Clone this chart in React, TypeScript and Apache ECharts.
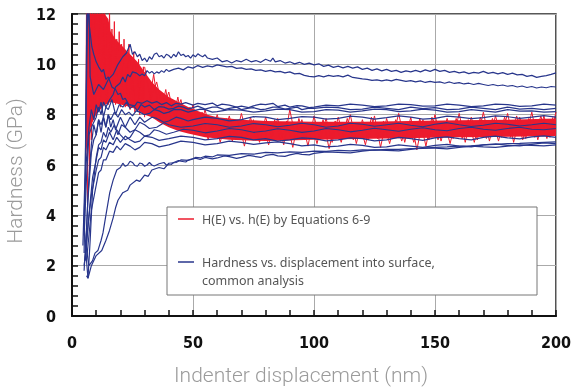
import React, { useEffect, useRef } from 'react';
import * as echarts from 'echarts';

type Pt = [number, number];

const xTicks = [0, 50, 100, 150, 200];
const yTicks = [0, 2, 4, 6, 8, 10, 12];

const redName = 'H(E) vs. h(E) by Equations 6-9';
const blueName1 = 'Hardness vs. displacement into surface,';
const blueName2 = 'common analysis';

const redBandUpper: Pt[] = [[5.8,12],[13.5,12],[15,11.8],[16,11.3],[18,11.0],[20,10.8],[22,10.6],[24,10.4],[27,10.1],[30,9.7],[33,9.3],[36,9.0],[40,8.7],[44,8.5],[48,8.3],[52,8.15],[56,8.0],[60,7.9],[70,7.8],[80,7.75],[100,7.72],[120,7.72],[140,7.75],[160,7.78],[180,7.8],[200,7.85]];
const redBandLower: Pt[] = [[5.8,6.5],[7,7.2],[8,7.6],[10,8.0],[13,8.35],[16,8.5],[20,8.4],[24,8.3],[27,8.2],[30,8.0],[33,7.9],[36,7.7],[40,7.5],[44,7.35],[48,7.25],[55,7.1],[65,7.0],[80,6.95],[100,7.0],[130,7.05],[160,7.1],[200,7.15]];

const redEarly: Pt[] = [[5.6,6.0],[6.0,12.5],[6.4,4.4],[6.8,12.5],[7.2,5.6],[7.6,12.5],[8.0,7.0],[8.5,12.5],[9,7.8],[9.5,12.5],[10,8.1],[10.5,12.5],[11,8.3],[11.5,12.5],[12,8.5],[12.5,12.5],[13,8.4],[13.5,12.3],[14,8.6],[14.5,11.8],[15,8.4],[15.5,12.2],[16,8.6],[16.5,11.4],[17,8.5],[17.5,11.7],[18,8.4],[18.5,11.0],[19,8.6],[19.5,11.3],[20,8.3],[20.5,10.8],[21,8.5],[21.5,11.0],[22,8.3],[22.5,10.5],[23,8.4],[23.5,10.8],[24,8.2],[24.5,10.3],[25,8.3],[25.5,10.5],[26,8.1],[26.5,10.0],[27,8.2],[27.5,10.2],[28,8.0],[28.5,9.8],[29,8.1],[29.5,9.9],[30,7.9]];

const redSpikes1: Pt[] = [[30,9.9],[32.5,8.6],[35,9.3],[37.5,8.2],[40,8.9],[42.5,7.8],[45,8.6],[47.5,7.5],[50,8.4],[52.5,7.3],[55,8.2],[57.5,7.2],[60,8.0],[62.5,7.1],[65,7.95],[67.5,7.0],[70,8.05],[72.5,7.1],[75,7.8],[77.5,6.9],[80,7.9],[82.5,7.05],[85,7.85],[87.5,6.8],[90,8.2],[92.5,7.0],[95,7.8],[97.5,6.75],[100,7.95],[102.5,7.0],[105,7.85],[107.5,6.9],[110,7.9],[112.5,7.05],[115,8.0],[117.5,6.85],[120,7.8],[122.5,7.0],[125,7.95],[127.5,6.7],[130,7.85],[132.5,7.05],[135,8.05],[137.5,6.9],[140,7.9],[142.5,6.6],[145,7.8],[147.5,7.0],[150,8.0],[152.5,6.95],[155,7.85],[157.5,7.05],[160,8.05],[162.5,6.9],[165,7.9],[167.5,7.0],[170,8.1],[172.5,6.95],[175,7.95],[177.5,7.1],[180,8.05],[182.5,6.9],[185,7.9],[187.5,7.05],[190,8.1],[192.5,7.0],[195,7.95],[197.5,7.1],[200,8.1]];

const redSpikes2: Pt[] = [[31.25,8.1],[33.75,9.6],[36.25,7.9],[38.75,9.0],[41.25,7.6],[43.75,8.7],[46.25,7.4],[48.75,8.3],[51.25,7.2],[53.75,8.1],[56.25,7.0],[58.75,7.9],[61.25,6.9],[63.75,7.85],[66.25,6.95],[68.75,7.75],[71.25,6.75],[73.75,7.9],[76.25,7.0],[78.75,7.7],[81.25,6.8],[83.75,7.8],[86.25,6.95],[88.75,7.75],[91.25,6.7],[93.75,7.85],[96.25,7.0],[98.75,7.7],[101.25,6.85],[103.75,7.8],[106.25,6.65],[108.75,7.75],[111.25,6.9],[113.75,7.85],[116.25,7.0],[118.75,7.7],[121.25,6.8],[123.75,7.9],[126.25,7.05],[128.75,7.75],[131.25,6.85],[133.75,7.8],[136.25,6.95],[138.75,7.7],[141.25,6.9],[143.75,7.85],[146.25,6.75],[148.75,7.9],[151.25,7.0],[153.75,7.75],[156.25,6.85],[158.75,7.85],[161.25,7.05],[163.75,7.8],[166.25,6.9],[168.75,7.9],[171.25,7.05],[173.75,7.85],[176.25,6.95],[178.75,7.9],[181.25,7.1],[183.75,7.95],[186.25,7.0],[188.75,7.85],[191.25,7.1],[193.75,7.95],[196.25,7.05],[198.75,7.9]];

const curveA: Pt[] = [[4.5,2.8],[5.5,6],[6.2,12.4],[7,12.4],[7.5,9.5],[9,8.8],[11,9.2],[13,9.0],[15,9.4],[17,9.6],[19,10.0],[21,10.3],[22.5,10.45],[24,10.8],[25,10.4],[26,10.5],[27,10.3],[28,10.4],[29,10.15],[30,10.25],[31,10.1],[32,10.3],[33,10.2],[34,10.4],[35,10.45],[36,10.3],[37,10.35],[38,10.25],[39,10.4],[40,10.35],[41,10.25],[42,10.4],[43,10.3],[44,10.5],[45,10.35],[46,10.4],[47,10.3],[48,10.35],[49,10.25],[50,10.38],[51,10.3],[52,10.42],[53,10.35],[54,10.3],[55,10.38],[56,10.25],[58,10.2],[60,10.25],[62,10.1],[64,10.15],[66,10.05],[68,10.15],[70,10.1],[72,10.2],[74,10.1],[76,10.15],[78,10.08],[80,10.2],[82,10.12],[83,10.25],[84,10.1],[86,10.15],[88,10.05],[90,10.1],[92,10.02],[94,10.08],[96,10.0],[98,10.05],[100,9.98],[102,10.02],[104,9.92],[106,9.97],[108,9.88],[110,9.93],[112,9.86],[114,9.92],[116,9.85],[118,9.9],[120,9.8],[122,9.85],[124,9.76],[126,9.82],[128,9.74],[130,9.8],[132,9.72],[134,9.76],[136,9.68],[138,9.74],[140,9.7],[142,9.76],[144,9.7],[146,9.78],[148,9.72],[150,9.8],[152,9.72],[154,9.76],[156,9.68],[158,9.72],[160,9.66],[162,9.7],[164,9.63],[166,9.68],[168,9.65],[170,9.72],[172,9.64],[174,9.68],[176,9.62],[178,9.67],[180,9.6],[182,9.65],[184,9.58],[186,9.6],[188,9.52],[190,9.56],[192,9.48],[194,9.52],[196,9.55],[198,9.6],[200,9.66]];
const curveB: Pt[] = [[5,3.2],[6,5.5],[7,7.2],[8.5,7.6],[10,7.9],[11,8.3],[12,8.0],[13,8.5],[14,8.3],[15.6,8.6],[17,8.8],[18,9.1],[19.8,9.25],[21,9.5],[22,9.3],[23,9.6],[24,9.5],[25,9.7],[26.7,9.65],[28,9.55],[29,9.62],[30,9.55],[31,9.75],[32,9.65],[33,9.72],[34,9.62],[35,9.7],[36,9.65],[37,9.75],[38,9.68],[39,9.8],[40,9.72],[42,9.8],[44,9.85],[46,9.78],[48,9.9],[50,9.85],[52,9.95],[54,9.88],[56,9.94],[58,9.9],[60,9.98],[62,9.94],[64,9.9],[66,9.92],[68,9.84],[70,9.86],[72,9.8],[74,9.82],[76,9.76],[78,9.78],[80,9.72],[82,9.76],[84,9.7],[86,9.72],[88,9.66],[90,9.7],[92,9.62],[94,9.64],[96,9.56],[98,9.52],[100,9.5],[102,9.55],[104,9.5],[106,9.56],[108,9.52],[110,9.55],[112,9.5],[114,9.57],[116,9.48],[118,9.45],[120,9.42],[122,9.4],[124,9.36],[126,9.38],[128,9.34],[130,9.38],[132,9.34],[134,9.4],[136,9.36],[138,9.32],[140,9.35],[142,9.3],[144,9.34],[146,9.28],[148,9.32],[150,9.28],[152,9.3],[154,9.25],[156,9.3],[158,9.24],[160,9.27],[162,9.22],[164,9.25],[166,9.2],[168,9.24],[170,9.2],[172,9.16],[174,9.2],[176,9.15],[178,9.18],[180,9.13],[182,9.16],[184,9.1],[186,9.14],[188,9.08],[190,9.12],[192,9.06],[194,9.1],[196,9.07],[198,9.12],[200,9.1]];
const curveC1: Pt[] = [[5,2.5],[5.8,8],[6.5,12.4],[7.2,11.5],[8.2,10.7],[9,10.4],[10,10.1],[11,9.9],[12.3,9.7],[13,9.8],[14,9.4],[15,9.5],[16.5,9.1],[18,9.0],[19,8.8],[20,8.85],[21,8.6],[22,8.65],[23.5,8.4],[26,8.35],[27,8.5],[29,8.45],[31,8.55],[33,8.46],[35,8.52],[37,8.4],[39,8.48],[41,8.35],[43,8.45],[45,8.42],[47,8.48],[50,8.38],[52,8.45],[55,8.4],[58,8.46],[60,8.35],[62,8.42],[65,8.38],[68,8.3],[70,8.34],[73,8.28],[75,8.35],[78,8.42],[80,8.4],[83,8.45],[85,8.32],[88,8.38],[90,8.3],[93,8.36],[95,8.35],[98,8.28],[100,8.3],[105,8.38],[110,8.35],[115,8.42],[120,8.38],[125,8.32],[130,8.35],[135,8.42],[140,8.4],[145,8.34],[150,8.35],[155,8.42],[160,8.38],[165,8.32],[170,8.35],[175,8.42],[180,8.4],[185,8.33],[190,8.35],[195,8.42],[200,8.38]];
const curveC2: Pt[] = [[4.8,3.5],[5.8,6],[7,7.5],[8,8.2],[9,7.8],[10,8.4],[11,8.1],[12,8.5],[13,7.9],[14,8.3],[15,8.2],[16.5,8.6],[18,8.0],[19.5,8.4],[21,8.3],[22.5,8.5],[24,8.25],[25.5,8.35],[27,8.15],[28.5,8.4],[30,8.3],[32,8.38],[34,8.2],[36,8.32],[38,8.3],[40,8.22],[42,8.25],[44,8.34],[46,8.3],[48,8.22],[50,8.28],[52,8.34],[55,8.22],[58,8.3],[60,8.3],[63,8.2],[65,8.25],[68,8.3],[70,8.2],[73,8.26],[75,8.28],[78,8.2],[80,8.22],[83,8.3],[85,8.3],[88,8.22],[90,8.25],[93,8.3],[95,8.2],[98,8.26],[100,8.25],[105,8.3],[110,8.28],[115,8.2],[120,8.22],[125,8.3],[130,8.25],[135,8.2],[140,8.3],[145,8.24],[150,8.28],[155,8.2],[160,8.22],[165,8.3],[170,8.25],[175,8.2],[180,8.3],[185,8.22],[190,8.25],[195,8.2],[200,8.25]];
const curveC3: Pt[] = [[5.5,2.2],[6.5,4.5],[8,6.5],[9,7.0],[10,7.2],[11,7.8],[12,7.6],[13,7.9],[14,7.5],[15,8.0],[16,7.8],[17.5,8.1],[19,7.9],[20.5,8.2],[22,8.0],[23.5,8.1],[25,7.95],[26.5,8.15],[28,8.1],[30,8.0],[32,8.05],[34,8.2],[36,8.15],[38,8.05],[40,8.1],[42,8.2],[45,8.2],[48,8.1],[50,8.15],[53,8.22],[55,8.2],[58,8.1],[60,8.12],[65,8.2],[70,8.18],[75,8.1],[80,8.15],[85,8.22],[90,8.2],[95,8.1],[100,8.12],[105,8.2],[110,8.18],[115,8.1],[120,8.15],[125,8.22],[130,8.2],[135,8.12],[140,8.15],[145,8.22],[150,8.18],[155,8.1],[160,8.12],[165,8.2],[170,8.15],[175,8.1],[180,8.2],[185,8.14],[190,8.15],[195,8.1],[200,8.12]];
const curveD1: Pt[] = [[5,1.8],[6,3.5],[7,5.5],[8,6.8],[9,7.6],[10,7.2],[11,7.8],[12,7.3],[13,7.9],[14,7.5],[15,8.0],[16,7.5],[17,7.8],[18,7.4],[20,7.9],[22,7.5],[24,7.9],[26,7.6],[28,7.9],[30,7.7],[33,7.9],[35,7.85],[38,7.7],[40,7.75],[43,7.9],[45,7.85],[48,7.75],[50,7.8],[55,7.9],[60,7.85],[65,7.75],[70,7.8],[75,7.92],[80,7.9],[85,7.8],[90,7.85],[95,7.92],[100,7.9],[105,7.82],[110,7.85],[115,7.94],[120,7.9],[125,7.82],[130,7.88],[135,7.95],[140,7.9],[145,7.82],[150,7.85],[155,7.94],[160,7.9],[165,7.84],[170,7.88],[175,7.95],[180,7.92],[185,7.85],[190,7.9],[195,7.96],[200,7.9]];
const curveD2: Pt[] = [[6,1.6],[6.6,1.5],[7.5,3],[8.5,5],[10,6.3],[11,6.8],[12,6.9],[13,7.3],[14,7.1],[15,7.5],[16,7.3],[17.5,7.6],[19,7.2],[20.5,7.6],[22,7.5],[24,7.3],[26,7.4],[28,7.7],[30,7.6],[32,7.45],[35,7.5],[38,7.68],[40,7.6],[45,7.5],[50,7.55],[55,7.65],[60,7.6],[65,7.5],[70,7.55],[75,7.65],[80,7.6],[85,7.52],[90,7.58],[95,7.66],[100,7.6],[105,7.5],[110,7.55],[115,7.66],[120,7.62],[125,7.54],[130,7.6],[135,7.66],[140,7.58],[145,7.52],[150,7.62],[155,7.68],[160,7.6],[165,7.53],[170,7.58],[175,7.66],[180,7.62],[185,7.55],[190,7.6],[195,7.66],[200,7.6]];
const curveD3: Pt[] = [[5,2.0],[6,2.8],[7,4.0],[8.5,5.5],[10,6.2],[11,6.7],[12,6.6],[13,7.0],[14,6.9],[15.5,7.3],[17,7.0],[18.5,7.4],[20,7.2],[22,7.0],[24,7.1],[26,7.4],[28,7.3],[30,7.15],[32,7.2],[34,7.4],[36,7.35],[39,7.22],[42,7.3],[46,7.42],[50,7.38],[55,7.28],[60,7.35],[65,7.45],[70,7.4],[75,7.3],[80,7.35],[85,7.44],[90,7.38],[95,7.3],[100,7.35],[105,7.45],[110,7.4],[115,7.32],[120,7.38],[125,7.46],[130,7.4],[135,7.34],[140,7.42],[145,7.48],[150,7.4],[155,7.36],[160,7.45],[165,7.5],[170,7.42],[175,7.38],[180,7.45],[185,7.5],[190,7.42],[195,7.4],[200,7.45]];
const curveD4: Pt[] = [[5.5,2.5],[6.5,3.5],[8,4.8],[10,5.8],[11,6.2],[12,6.3],[13,6.7],[14,6.6],[15.5,6.9],[17,6.8],[18.5,7.1],[20,6.9],[22,7.15],[24,7.0],[26,6.9],[28,6.95],[30,7.15],[33,7.1],[36,6.98],[40,7.05],[45,7.15],[50,7.1],[55,7.0],[60,7.05],[65,7.14],[70,7.1],[75,7.0],[80,7.05],[85,6.95],[90,7.0],[95,7.08],[100,7.05],[105,6.96],[110,7.0],[115,7.08],[120,7.05],[125,6.96],[130,7.0],[135,7.1],[140,7.05],[145,6.98],[150,7.08],[155,7.12],[160,7.05],[165,7.0],[170,7.1],[175,7.15],[180,7.08],[185,7.04],[190,7.12],[195,7.16],[200,7.1]];
const curveD5: Pt[] = [[6,2.2],[7,3.2],[8,4.2],[10,5.2],[11,5.7],[12,5.8],[13,6.2],[14,6.2],[15.5,6.55],[17,6.5],[18.5,6.75],[20,6.6],[22,6.85],[24,6.75],[26,6.6],[28,6.7],[30,6.9],[33,6.85],[36,6.72],[40,6.8],[45,6.95],[50,6.9],[55,6.8],[60,6.85],[65,6.95],[70,6.9],[75,6.82],[80,6.88],[85,6.92],[90,6.85],[95,6.76],[100,6.8],[105,6.72],[110,6.75],[115,6.82],[120,6.78],[125,6.7],[130,6.72],[135,6.8],[140,6.75],[145,6.7],[150,6.78],[155,6.82],[160,6.75],[165,6.72],[170,6.8],[175,6.84],[180,6.78],[185,6.76],[190,6.82],[195,6.88],[200,6.85]];
const curveE1: Pt[] = [[5,3.5],[6,2.2],[6.6,1.5],[8,2.0],[10,2.4],[12.3,2.6],[14,3.0],[15.5,3.4],[17,3.9],[18,4.3],[19,4.6],[21,4.9],[23,5.0],[24,5.2],[26.7,5.4],[28,5.35],[30,5.6],[31.5,5.55],[33,5.8],[36,5.9],[38,5.85],[40,6.07],[43,6.1],[45,6.2],[48,6.18],[51,6.27],[53,6.22],[55,6.3],[58,6.24],[60,6.28],[63,6.36],[65,6.33],[68,6.26],[70,6.3],[73,6.38],[75,6.35],[78,6.3],[80,6.38],[83,6.42],[85,6.36],[88,6.34],[90,6.4],[93,6.46],[95,6.42],[98,6.4],[100,6.46],[105,6.52],[110,6.5],[115,6.48],[120,6.55],[125,6.6],[130,6.58],[135,6.56],[140,6.62],[145,6.68],[150,6.67],[155,6.64],[160,6.7],[165,6.75],[170,6.72],[175,6.7],[180,6.75],[185,6.8],[190,6.78],[195,6.76],[200,6.8]];
const curveE2: Pt[] = [[5.5,3],[7,2.0],[8.5,2.2],[9.5,2.5],[10.7,2.6],[12,3.0],[12.8,3.3],[14,4.0],[15.6,4.9],[17,5.4],[18.5,5.8],[20,5.9],[21,6.07],[22,5.95],[23,6.0],[24,6.15],[25,6.1],[26,5.98],[27,5.95],[28,6.08],[29,6.05],[30,5.95],[31,6.0],[32,6.1],[33,6.0],[34,5.96],[36,6.05],[38,6.1],[39,6.0],[41,6.02],[42,6.1],[44,6.18],[45,6.15],[47,6.12],[48,6.2],[50,6.26],[51,6.3],[53,6.28],[55,6.35],[58,6.32],[60,6.4],[65,6.38],[70,6.45],[75,6.43],[80,6.5],[85,6.48],[90,6.52],[95,6.5],[100,6.55],[105,6.54],[110,6.58],[115,6.56],[120,6.6],[125,6.59],[130,6.62],[135,6.62],[140,6.65],[145,6.66],[150,6.7],[155,6.72],[160,6.75],[165,6.76],[170,6.8],[175,6.82],[180,6.85],[185,6.86],[190,6.88],[195,6.9],[200,6.92]];

const blueCurves: Pt[][] = [curveA, curveB, curveC1, curveC2, curveC3, curveD1, curveD2, curveD3, curveD4, curveD5, curveE1, curveE2];

const RED = '#ec1b2d';
const BLUE = '#28368c';

export default function App() {
  const ref = useRef<HTMLDivElement>(null);
  useEffect(() => {
    if (!ref.current) return;
    const chart = echarts.init(ref.current, null, { renderer: 'svg' });
    const redLine = (data: Pt[]) => ({
      type: 'line', name: redName, data, showSymbol: false, symbol: 'none',
      lineStyle: { color: RED, width: 1 }, itemStyle: { color: RED }, z: 2, silent: true,
    });
    const option: any = {
      animation: false,
      grid: { left: 72, right: 16, top: 14, bottom: 74, show: true, borderColor: '#222', borderWidth: 1.5, backgroundColor: 'transparent' },
      xAxis: {
        type: 'value', min: xTicks[0], max: xTicks[xTicks.length - 1], interval: 50,
        axisLine: { show: true, onZero: false, lineStyle: { color: '#111', width: 2 } },
        axisTick: { show: true, inside: true, length: 6, lineStyle: { color: '#111', width: 1.5 } },
        minorTick: { show: true, splitNumber: 5, length: 6, lineStyle: { color: '#111', width: 1.5 } },
        splitLine: { show: true, lineStyle: { color: '#aaa', width: 1 } },
        axisLabel: { margin: 18, color: '#111', fontFamily: 'DejaVu Sans Condensed', fontWeight: 'bold', fontSize: 16 },
      },
      yAxis: {
        type: 'value', min: yTicks[0], max: yTicks[yTicks.length - 1], interval: 2,
        axisLine: { show: true, onZero: false, lineStyle: { color: '#111', width: 2 } },
        axisTick: { show: true, inside: true, length: 6, lineStyle: { color: '#111', width: 1.5 } },
        minorTick: { show: true, splitNumber: 5, length: 6, lineStyle: { color: '#111', width: 1.5 } },
        splitLine: { show: true, lineStyle: { color: '#aaa', width: 1 } },
        axisLabel: { margin: 16, color: '#111', fontFamily: 'DejaVu Sans Condensed', fontWeight: 'bold', fontSize: 16 },
      },
      series: [
        {
          type: 'custom', name: redName, coordinateSystem: 'cartesian2d', data: [[0, 0]], silent: true, z: 1,
          renderItem: (_params: any, api: any) => {
            const pts = redBandUpper.map((p) => api.coord(p)).concat(redBandLower.slice().reverse().map((p) => api.coord(p)));
            return { type: 'polygon', shape: { points: pts }, style: { fill: RED } };
          },
        },
        redLine(redEarly),
        redLine(redSpikes1),
        redLine(redSpikes2),
        ...blueCurves.map((c) => ({
          type: 'line', name: blueName1, data: c, showSymbol: false, symbol: 'none',
          lineStyle: { color: BLUE, width: 1.2 }, itemStyle: { color: BLUE }, z: 3, silent: true,
        })),
      ],
      graphic: [
        { type: 'rect', z: 100, shape: { x: 167, y: 207, width: 370, height: 88 }, style: { fill: '#fff', stroke: '#777', lineWidth: 1 } },
        { type: 'line', z: 101, shape: { x1: 178, y1: 219, x2: 194, y2: 219 }, style: { stroke: RED, lineWidth: 1.5 } },
        { type: 'line', z: 101, shape: { x1: 178, y1: 262, x2: 194, y2: 262 }, style: { stroke: BLUE, lineWidth: 1.5 } },
        { type: 'text', z: 101, x: 202, y: 219, style: { text: redName, fill: '#555', fontSize: 12.5, fontFamily: 'Noto Sans', verticalAlign: 'middle' } },
        { type: 'text', z: 101, x: 202, y: 262, style: { text: blueName1, fill: '#555', fontSize: 12.5, fontFamily: 'Noto Sans', verticalAlign: 'middle' } },
        { type: 'text', z: 101, x: 202, y: 280, style: { text: blueName2, fill: '#555', fontSize: 12.5, fontFamily: 'Noto Sans', verticalAlign: 'middle' } },
        { type: 'text', z: 101, x: 301, y: 375, style: { text: 'Indenter displacement (nm)', fill: '#9b9b9b', fontSize: 21, fontWeight: 300, fontFamily: 'Roboto', align: 'center', verticalAlign: 'middle' } },
        { type: 'text', z: 101, x: 15, y: 171, rotation: Math.PI / 2, style: { text: 'Hardness (GPa)', fill: '#9b9b9b', fontSize: 21, fontWeight: 300, fontFamily: 'Roboto', align: 'center', verticalAlign: 'middle' } },
      ],
    };
    chart.setOption(option);
    return () => chart.dispose();
  }, []);
  return <div ref={ref} style={{ position: 'fixed', left: 0, top: 0, width: 574, height: 390 }} />;
}
